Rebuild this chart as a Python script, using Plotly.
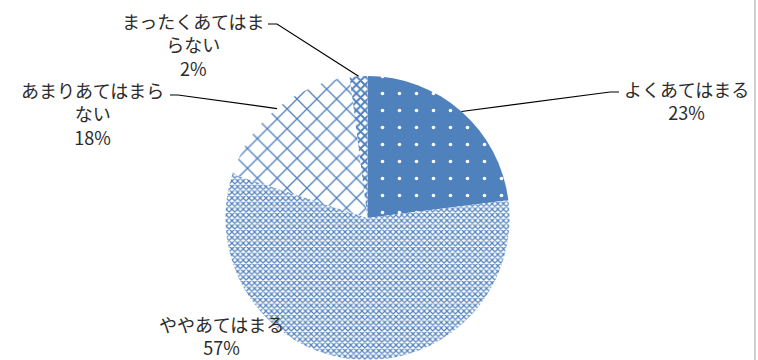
import math
import plotly.graph_objects as go

categories = ['よくあてはまる', 'ややあてはまる', 'あまりあてはまらない', 'まったくあてはまらない']
values = [23, 57, 18, 2]

W, H = 758, 360
BLUE = '#4F81BD'
FONT = 'Noto Sans CJK JP'

# pie geometry (pixels)
cx, cy, r = 367.5, 218, 142

# label layout (pixels): text centre, and leader end / elbow (None = no leader)
label_pos = [(686, 100), (221, 335), (92, 113), (193, 44)]
leader = [((619, 92), (610, 92)), None, ((170, 95), (178, 95)), ((268, 24), (277, 24))]
wrap = [99, 99, 8, 8]

patterns = [
    dict(shape='.', bgcolor=BLUE, fgcolor='white', size=17, solidity=0.035),
    dict(shape='x', bgcolor='white', fgcolor=BLUE, size=4, solidity=0.5),
    dict(shape='x', bgcolor='white', fgcolor=BLUE, size=14, solidity=0.18),
    dict(shape='x', bgcolor='white', fgcolor=BLUE, size=6, solidity=0.55),
]


def px2paper(x, y):
    return x / W, 1 - y / H


fig = go.Figure(go.Pie(
    labels=categories, values=values, sort=False, direction='clockwise', rotation=0,
    textinfo='none', hoverinfo='label+percent', showlegend=False,
    domain=dict(x=[(cx - r) / W, (cx + r) / W], y=[1 - (cy + r) / H, 1 - (cy - r) / H]),
    marker=dict(
        colors=[p['bgcolor'] for p in patterns],
        line=dict(width=0),
        pattern=dict(
            shape=[p['shape'] for p in patterns],
            bgcolor=[p['bgcolor'] for p in patterns],
            fgcolor=[p['fgcolor'] for p in patterns],
            size=[p['size'] for p in patterns],
            solidity=[p['solidity'] for p in patterns],
            fgopacity=1,
            fillmode='overlay',
        ),
    ),
))

total = sum(values)
cum = 0
for i, (name, v) in enumerate(zip(categories, values)):
    mid = (cum + v / 2) / total * 2 * math.pi
    cum += v
    ex, ey = cx + r * math.sin(mid), cy - r * math.cos(mid)
    pct = round(v / total * 100)
    text = name if len(name) <= wrap[i] else name[:wrap[i]] + '<br>' + name[wrap[i]:]
    tx, ty = px2paper(*label_pos[i])
    fig.add_annotation(x=tx, y=ty, xref='paper', yref='paper', showarrow=False,
                       text=f'{text}<br>{pct}%', align='center',
                       xanchor='center', yanchor='middle',
                       font=dict(family=FONT, size=18, color='#2b2b2b'))
    if leader[i]:
        (lx, ly), (bx, by) = leader[i]
        pts = [px2paper(ex, ey), px2paper(bx, by), px2paper(lx, ly)]
        path = 'M ' + ' L '.join(f'{a},{b}' for a, b in pts)
        fig.add_shape(type='path', path=path, xref='paper', yref='paper',
                      line=dict(color='black', width=1.2))

# chart area border (right side visible)
fig.add_shape(type='line', xref='paper', yref='paper', x0=755 / W, x1=755 / W, y0=0, y1=1,
              line=dict(color='#a0a0a0', width=1))

fig.update_layout(
    width=W, height=H,
    margin=dict(l=0, r=0, t=0, b=0),
    paper_bgcolor='white', plot_bgcolor='white',
    font=dict(family=FONT),
)

fig.write_html('out.html', config={'displayModeBar': False},
               post_script="document.body.style.margin='0';")
